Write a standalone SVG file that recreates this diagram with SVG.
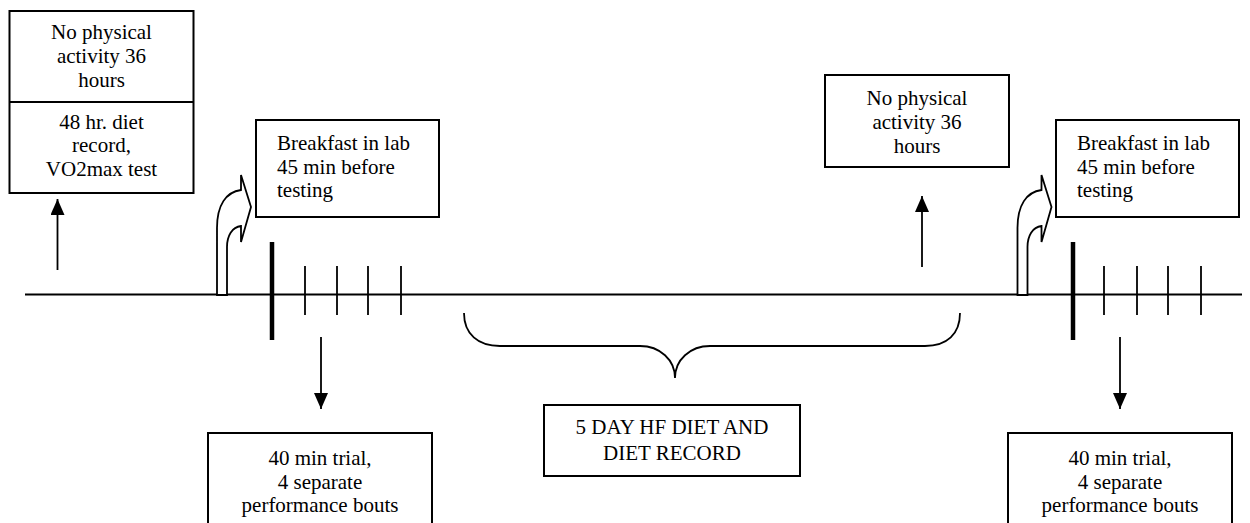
<svg xmlns="http://www.w3.org/2000/svg" width="1250" height="523" viewBox="0 0 1250 523">
<style>
.box{fill:#fff;stroke:#000;stroke-width:2}
text{font-family:'Liberation Serif','DejaVu Serif',serif;font-size:21px;fill:#000}
.c{text-anchor:middle}
.ln{stroke:#000;stroke-width:1.8;fill:none}
.thick{stroke:#000;stroke-width:4.5}
.bent{fill:#fff;stroke:#000;stroke-width:1.8;stroke-linejoin:miter}
</style>
<defs>
<marker id="ah" viewBox="0 0 16 14" refX="16" refY="7" markerWidth="16" markerHeight="14" markerUnits="userSpaceOnUse" orient="auto">
<path d="M0,0 L16,7 L0,14 Z" fill="#000"/>
</marker>
<path id="bentArrow" d="M217,295 L217,228 C217,205 226,192 241,190 L241,175 L251,207 L241,242 L241,226 C232,227 227,236 227,247 L227,295 Z"/>
</defs>

<g id="connectors">
<line class="ln" x1="25" y1="294.5" x2="1242" y2="294.5"/>
<line class="thick" x1="272" y1="242" x2="272" y2="340"/>
<line class="ln" x1="305" y1="266" x2="305" y2="315"/>
<line class="ln" x1="337" y1="266" x2="337" y2="315"/>
<line class="ln" x1="368" y1="266" x2="368" y2="315"/>
<line class="ln" x1="401" y1="266" x2="401" y2="315"/>
<line class="thick" x1="1073" y1="242" x2="1073" y2="340"/>
<line class="ln" x1="1104" y1="266" x2="1104" y2="315"/>
<line class="ln" x1="1137" y1="266" x2="1137" y2="315"/>
<line class="ln" x1="1168" y1="266" x2="1168" y2="315"/>
<line class="ln" x1="1201" y1="266" x2="1201" y2="315"/>
<line class="ln" x1="57.5" y1="270" x2="57.5" y2="199" marker-end="url(#ah)"/>
<line class="ln" x1="922" y1="267" x2="922" y2="196" marker-end="url(#ah)"/>
<line class="ln" x1="321" y1="337" x2="321" y2="409" marker-end="url(#ah)"/>
<line class="ln" x1="1120" y1="337" x2="1120" y2="409" marker-end="url(#ah)"/>
<use href="#bentArrow" class="bent"/>
<use href="#bentArrow" class="bent" transform="translate(800.5,0)"/>
<path class="ln" d="M464,313 C464,334 478,346 500,346 L640,346 C660,346 675,360 675,378 C675,360 690,346 710,346 L925,346 C947,346 960,334 960,313"/>
</g>

<g id="node-prestudy">
<rect class="box" x="9.5" y="11" width="184" height="182"/>
<line class="ln" x1="9.5" y1="102" x2="193.5" y2="102" stroke-width="2"/>
<text class="c" x="101.5" y="39">No physical</text>
<text class="c" x="101.5" y="63">activity 36</text>
<text class="c" x="101.5" y="87">hours</text>
<text class="c" x="101.5" y="129">48 hr. diet</text>
<text class="c" x="101.5" y="152">record,</text>
<text class="c" x="101.5" y="176">VO2max test</text>
</g>

<g id="node-breakfast1">
<rect class="box" x="256" y="120" width="183" height="97"/>
<text x="277" y="150">Breakfast in lab</text>
<text x="277" y="173.5">45 min before</text>
<text x="277" y="197">testing</text>
</g>

<g id="node-trial1">
<rect class="box" x="208" y="433" width="224" height="100"/>
<text class="c" x="320" y="465">40 min trial,</text>
<text class="c" x="320" y="488.5">4 separate</text>
<text class="c" x="320" y="512">performance bouts</text>
</g>

<g id="node-diet">
<rect class="box" x="544" y="405" width="256" height="71"/>
<text class="c" x="672" y="434">5 DAY HF DIET AND</text>
<text class="c" x="672" y="460">DIET RECORD</text>
</g>

<g id="node-rest2">
<rect class="box" x="825" y="75" width="184" height="92"/>
<text class="c" x="917" y="105">No physical</text>
<text class="c" x="917" y="129">activity 36</text>
<text class="c" x="917" y="153">hours</text>
</g>

<g id="node-breakfast2">
<rect class="box" x="1056" y="120" width="183" height="97"/>
<text x="1077" y="150">Breakfast in lab</text>
<text x="1077" y="173.5">45 min before</text>
<text x="1077" y="197">testing</text>
</g>

<g id="node-trial2">
<rect class="box" x="1008" y="433" width="224" height="100"/>
<text class="c" x="1120" y="465">40 min trial,</text>
<text class="c" x="1120" y="488.5">4 separate</text>
<text class="c" x="1120" y="512">performance bouts</text>
</g>
</svg>
